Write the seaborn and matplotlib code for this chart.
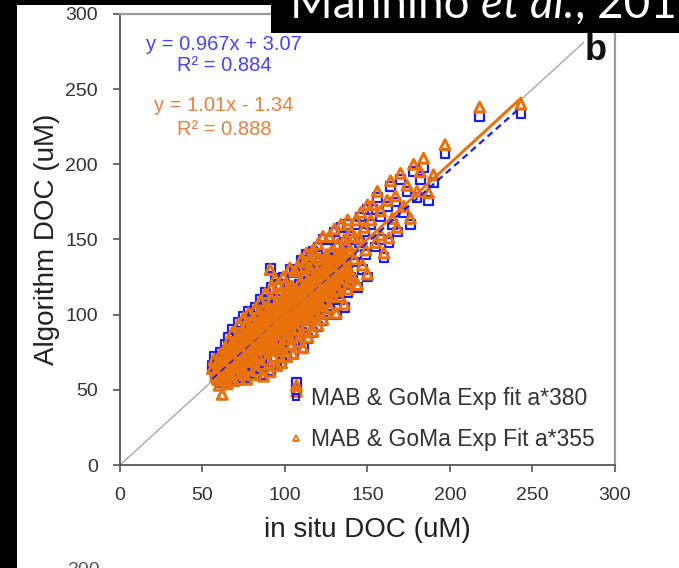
import matplotlib
matplotlib.use("Agg")
import numpy as np
import matplotlib.pyplot as plt
import seaborn as sns
from matplotlib.lines import Line2D
from matplotlib.patches import Rectangle

# in situ DOC (uM), shared by both algorithm series
insitu_doc = [
    56, 57, 58, 59, 60, 60, 61, 62, 62, 63, 64, 64, 65, 66,
    66, 67, 68, 68, 69, 69, 70, 70, 71, 72, 72, 73, 73, 74,
    75, 75, 76, 76, 77, 77, 78, 78, 79, 79, 80, 80, 81, 81,
    82, 82, 83, 83, 84, 84, 85, 85, 86, 86, 87, 87, 88, 88,
    89, 89, 90, 90, 91, 91, 92, 92, 93, 93, 94, 94, 95, 95,
    96, 96, 97, 97, 98, 98, 99, 99, 100, 100, 101, 101, 102, 102,
    103, 103, 104, 104, 105, 105, 106, 106, 107, 107, 108, 108, 109, 109,
    110, 110, 111, 111, 112, 112, 113, 113, 114, 114, 115, 115, 116, 116,
    117, 117, 118, 118, 119, 119, 120, 120, 121, 121, 122, 122, 123, 123,
    124, 124, 125, 125, 126, 126, 127, 127, 128, 128, 129, 130, 130, 131,
    131, 132, 132, 133, 134, 134, 135, 136, 136, 137, 138, 138, 139, 140,
    140, 141, 142, 143, 144, 145, 146, 147, 148, 149, 150, 150, 152, 153,
    155, 156, 158, 158, 160, 162, 163, 164, 165, 167, 168, 170, 172, 174,
    176, 178, 180, 182, 184, 187, 190, 197, 218, 243, 91, 117, 62, 107,
    58, 59, 61, 61, 63, 63, 65, 65, 67, 67, 69, 70, 71, 72,
    73, 74, 74, 75, 76, 77, 78, 79, 80, 81, 82, 83, 84, 85,
    86, 87, 88, 89, 90, 91, 92, 93, 94, 95, 96, 97, 98, 99,
    100, 101, 102, 103, 104, 105, 106, 107, 108, 109, 110, 111, 112, 113,
    114, 115, 116, 117, 118, 119, 120, 121, 122, 123, 124, 125, 126, 127,
    128, 129, 130, 131, 132, 133, 134, 135, 136, 137, 138, 139, 140, 142,
    66, 70, 74, 78, 82, 86, 90, 94, 98, 102, 106, 110, 114, 118,
    64, 68, 72, 76, 80, 84, 88, 92, 96, 100, 104, 108, 112, 116,
    60, 62, 64, 66, 68, 70, 72, 74, 76, 78, 80, 82, 84, 86,
    88, 90, 92, 94, 96, 98, 100, 102, 104, 106, 108, 110, 112, 114,
    116, 118, 120, 122, 124, 126, 128, 130, 132, 134, 136, 62, 68, 74,
    79, 83, 87, 91, 95, 99, 103, 107, 111, 115, 119, 123, 127, 133,
]

# algorithm DOC from the a*380 exponential fit (blue squares)
alg_doc_380 = [
    66, 72, 60, 70, 55, 64, 75, 58, 68, 62, 80, 71, 56, 66,
    85, 61, 74, 90, 57, 68, 80, 63, 72, 95, 58, 85, 67, 76,
    62, 99, 88, 70, 80, 58, 102, 66, 92, 74, 84, 61, 98, 70,
    105, 78, 88, 64, 95, 73, 110, 82, 68, 100, 90, 60, 78, 115,
    96, 70, 86, 105, 63, 92, 118, 80, 100, 72, 88, 124, 108, 66,
    95, 82, 114, 76, 102, 68, 90, 125, 84, 110, 96, 72, 118, 88,
    104, 130, 80, 95, 112, 74, 100, 128, 90, 50, 106, 82, 120, 96,
    136, 88, 110, 78, 100, 125, 92, 140, 115, 84, 105, 130, 96, 120,
    88, 132, 110, 98, 100, 122, 92, 145, 115, 135, 105, 125, 96, 150,
    118, 108, 138, 100, 128, 112, 150, 104, 120, 140, 110, 132, 155, 118,
    100, 145, 125, 110, 138, 158, 122, 148, 105, 130, 160, 115, 140, 125,
    152, 123, 135, 160, 118, 148, 165, 130, 155, 140, 170, 125, 160, 170,
    145, 178, 150, 165, 138, 172, 148, 185, 160, 175, 155, 190, 168, 182,
    160, 195, 178, 190, 198, 176, 188, 207, 232, 234, 131, 142, 55, 55,
    64, 58, 62, 69, 66, 73, 61, 76, 70, 80, 75, 71, 66, 78,
    74, 70, 82, 78, 77, 86, 82, 80, 90, 86, 84, 94, 89, 92,
    88, 96, 92, 84, 96, 100, 90, 94, 104, 98, 106, 92, 96, 106,
    98, 106, 95, 112, 102, 96, 110, 102, 114, 106, 104, 118, 110, 104,
    122, 112, 108, 118, 124, 110, 120, 106, 116, 128, 126, 118, 120, 130,
    128, 122, 122, 135, 114, 126, 118, 140, 132, 145, 130, 120, 140, 150,
    60, 66, 64, 72, 72, 78, 78, 80, 78, 84, 86, 96, 100, 104,
    75, 82, 88, 94, 96, 102, 106, 110, 120, 120, 118, 130, 134, 138,
    60, 66, 68, 72, 66, 74, 70, 80, 82, 76, 78, 88, 84, 94,
    86, 94, 102, 96, 100, 110, 104, 100, 110, 116, 98, 112, 118, 108,
    114, 120, 112, 132, 122, 136, 114, 126, 138, 128, 122, 72, 78, 66,
    88, 80, 84, 88, 90, 100, 94, 108, 100, 118, 114, 112, 122, 132,
]

# algorithm DOC from the a*355 exponential fit (orange triangles)
alg_doc_355 = [
    64, 70, 59, 68, 53, 62, 74, 56, 66, 61, 78, 70, 54, 64,
    83, 60, 72, 88, 56, 67, 79, 62, 71, 94, 57, 84, 66, 75,
    61, 98, 87, 69, 79, 57, 101, 65, 91, 73, 83, 60, 97, 69,
    104, 77, 87, 63, 94, 72, 109, 81, 67, 99, 89, 59, 78, 114,
    96, 70, 86, 104, 62, 92, 118, 80, 100, 72, 88, 124, 108, 66,
    95, 82, 114, 76, 102, 68, 90, 125, 84, 110, 96, 72, 118, 88,
    104, 131, 80, 95, 113, 74, 101, 129, 90, 49, 107, 82, 121, 97,
    137, 88, 111, 78, 101, 126, 93, 141, 116, 85, 106, 131, 97, 121,
    89, 133, 111, 99, 101, 123, 93, 147, 116, 137, 106, 127, 97, 152,
    120, 109, 140, 101, 130, 113, 152, 105, 122, 142, 112, 134, 157, 120,
    101, 147, 127, 112, 140, 160, 124, 150, 107, 132, 163, 117, 142, 127,
    155, 125, 137, 163, 120, 151, 168, 133, 158, 143, 173, 127, 163, 173,
    148, 182, 153, 169, 141, 176, 151, 189, 164, 179, 158, 194, 172, 186,
    164, 200, 182, 195, 204, 181, 193, 213, 238, 240, 130, 143, 47, 53,
    62, 57, 61, 67, 65, 71, 60, 75, 69, 79, 74, 70, 65, 77,
    73, 69, 81, 77, 76, 85, 81, 79, 89, 85, 83, 93, 88, 91,
    87, 95, 91, 83, 95, 100, 89, 94, 104, 98, 106, 92, 96, 106,
    98, 107, 95, 113, 103, 96, 111, 103, 115, 107, 105, 119, 111, 105,
    123, 113, 109, 119, 126, 111, 122, 107, 117, 130, 128, 119, 122, 132,
    130, 124, 124, 137, 116, 128, 120, 142, 134, 147, 132, 122, 142, 152,
    59, 65, 63, 71, 71, 77, 77, 80, 78, 84, 86, 97, 101, 105,
    74, 81, 87, 93, 95, 101, 105, 110, 120, 120, 119, 131, 135, 140,
    59, 65, 67, 71, 65, 73, 69, 79, 81, 75, 77, 87, 83, 93,
    86, 94, 102, 96, 100, 110, 104, 100, 111, 117, 99, 113, 119, 109,
    115, 122, 113, 134, 124, 138, 116, 128, 140, 130, 124, 71, 77, 65,
    87, 79, 83, 88, 90, 100, 94, 109, 101, 119, 115, 113, 124, 134,
]

fit_380 = (0.967, 3.07)
fit_355 = (1.01, -1.34)
r2_380 = 0.884
r2_355 = 0.888

axis_ticks = [0, 50, 100, 150, 200, 250, 300]

blue = "#1c1cf0"
orange = "#e8710a"
blue_txt = "#4646f0"
orange_txt = "#e58040"

sns.set_theme(style="white")
plt.rcParams['font.family'] = ['Liberation Sans', 'DejaVu Sans']

fig = plt.figure(figsize=(6.79, 5.68), dpi=100)
ax = fig.add_axes([0.1767, 0.1813, 0.7290, 0.7941])

# 1:1 line
sns.lineplot(x=axis_ticks, y=axis_ticks, color="#a0a0a0", linewidth=0.9, ax=ax, zorder=1)

sns.scatterplot(x=insitu_doc, y=alg_doc_380, marker="s", s=40, color=blue,
                linewidth=1.6, ax=ax, zorder=2)
ax.collections[-1].set_facecolor("none")
ax.collections[-1].set_edgecolor(blue)

sns.scatterplot(x=insitu_doc, y=alg_doc_355, marker="^", s=50, color=orange,
                linewidth=2.2, ax=ax, zorder=3)
ax.collections[-1].set_facecolor("none")
ax.collections[-1].set_edgecolor(orange)

xfit = np.array([min(insitu_doc), max(insitu_doc)])
sns.lineplot(x=xfit, y=fit_380[0] * xfit + fit_380[1], color=blue, linewidth=1.6,
             linestyle=(0, (3, 2)), ax=ax, zorder=4)
sns.lineplot(x=xfit, y=fit_355[0] * xfit + fit_355[1], color=orange, linewidth=2,
             ax=ax, zorder=5)

ax.text(63, 280, f"y = {fit_380[0]}x + {fit_380[1]}", color=blue_txt, fontsize=14.5,
        ha="center", va="center")
ax.text(63, 265.5, f"R\u00b2 = {r2_380}", color=blue_txt, fontsize=14.5,
        ha="center", va="center")
ax.text(63, 239, f"y = {fit_355[0]}x - {abs(fit_355[1])}", color=orange_txt, fontsize=14.5,
        ha="center", va="center")
ax.text(63, 223, f"R\u00b2 = {r2_355}", color=orange_txt, fontsize=14.5,
        ha="center", va="center")
ax.text(288, 276, "b", fontsize=26, fontweight="bold", color="#111", ha="center",
        va="center", zorder=6, bbox=dict(facecolor="white", edgecolor="none", pad=0))

ax.set_xlim(0, 300)
ax.set_ylim(0, 300)
ax.set_xticks(axis_ticks)
ax.set_yticks(axis_ticks)
ax.tick_params(bottom=True, left=True, direction="out", length=5, width=1.2,
               color="#555555", labelsize=14, labelcolor="#333333", pad=11)

for side in ["left", "bottom"]:
    ax.spines[side].set_color("#555555")
    ax.spines[side].set_linewidth(1.3)
for side in ["top", "right"]:
    ax.spines[side].set_color("#9a9a9a")
    ax.spines[side].set_linewidth(1.6)

ax.set_xlabel("in situ DOC (uM)", fontsize=20, color="#222222")
ax.set_ylabel("Algorithm DOC (uM)", fontsize=20, color="#222222")
ax.xaxis.label.set_va("center")
ax.yaxis.label.set_va("center")
ax.xaxis.set_label_coords(0.5, -0.144)
ax.yaxis.set_label_coords(-0.1475, 0.5)

handles = [
    Line2D([], [], marker="s", linestyle="none", markersize=5, markerfacecolor="none",
           markeredgecolor=blue, markeredgewidth=1.5),
    Line2D([], [], marker="^", linestyle="none", markersize=5, markerfacecolor="none",
           markeredgecolor=orange, markeredgewidth=1.3),
]
ax.legend(handles, ["MAB & GoMa Exp fit a*380", "MAB & GoMa Exp Fit a*355"],
          loc="center left", bbox_to_anchor=(0.347, 0.102), frameon=False,
          fontsize=16.5, handlelength=0.4, handletextpad=0.45, labelspacing=0.75,
          borderpad=0, borderaxespad=0, labelcolor="#333333")

# slide framing around the figure
W, H = 679, 568
fig.add_artist(Rectangle((0, 0), 17 / W, 1, transform=fig.transFigure,
                         facecolor="black", edgecolor="none", zorder=20))
fig.add_artist(Rectangle((0, 1 - 5 / H), 1, 5 / H, transform=fig.transFigure,
                         facecolor="black", edgecolor="none", zorder=20))
fig.add_artist(Rectangle((271 / W, 1 - 33 / H), 1 - 271 / W, 33 / H,
                         transform=fig.transFigure, facecolor="black",
                         edgecolor="none", zorder=20))

renderer = fig.canvas.get_renderer()
x_pos = 290 / W
base_y = 1 - 18 / H
for piece, style in [("Mannino ", "normal"), ("et al.", "italic"), (", 2016", "normal")]:
    t = fig.text(x_pos, base_y, piece, color="white", fontsize=33, family="Lato",
                 style=style, va="baseline", ha="left", zorder=21)
    bb = t.get_window_extent(renderer=renderer)
    x_pos += bb.width / fig.bbox.width

# top of the next panel's tick label peeking in at the bottom edge
fig.text(100 / W, 6 / H, "300", color="#555555", fontsize=14, ha="right", va="top")

fig.savefig("out.png", dpi=100)
